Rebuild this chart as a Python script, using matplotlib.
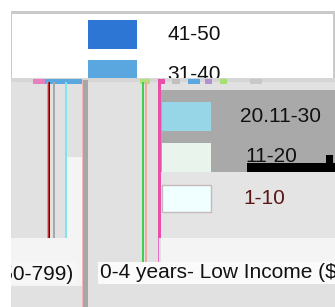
import matplotlib.pyplot as plt
from matplotlib.patches import Rectangle

plt.rcParams['font.family'] = ['Liberation Sans', 'DejaVu Sans']

# legend entries (top block and right block)
top_labels = ['41-50', '31-40']
top_colors = ['#2E76D3', '#5AA6DF']
right_labels = ['20.11-30', '11-20', '1-10']
right_colors = ['#96D6E6', '#E8F4EC', '#F0FFFF']
right_text_colors = ['#111111', '#111111', '#5A1616']
# category axis labels (cut off by the panels)
cat_labels = ['$750-799)', '0-4 years- Low Income ($']

fig = plt.figure(figsize=(3.35, 3.07), dpi=100)
ax = fig.add_axes([0, 0, 1, 1])
ax.set_xlim(0, 335)
ax.set_ylim(307, 0)
ax.axis('off')


def box(x0, y0, x1, y1, color, z=1, ec='none', lw=0):
    ax.add_patch(Rectangle((x0, y0), x1 - x0, y1 - y0, facecolor=color,
                           edgecolor=ec, linewidth=lw, zorder=z))


# top legend frame
box(11, 11, 335, 80, '#C9C9C9', 1)
box(12, 14, 333, 80, 'white', 1.1)
for i, (lab, col) in enumerate(zip(top_labels, top_colors)):
    y = 20 + i * 40
    box(88, y, 137, y + 29, col, 2)
    ax.text(167, y + 14, lab, fontsize=15, va='center', ha='left',
            color='#111111', zorder=2)

# lower panels
box(11, 80, 335, 307, '#E1E1E1', 5)
box(11, 78, 335, 82, '#D6D6D6', 5.1)
for x0, x1, c in [(33, 50, '#E77FBF'), (45, 82, '#5AA6DF'), (140, 150, '#B4E07A'),
                  (158, 165, '#E84FA8'), (172, 180, '#C0C0C0'), (188, 200, '#5AA6DF'),
                  (205, 212, '#B090D0'), (220, 227, '#A6E070'), (250, 262, '#C8C8C8')]:
    box(x0, 79, x1, 84, c, 5.2)

# left column
for x0, x1, c in [(47, 48, '#D8B020'), (48, 49, '#C03030'), (49, 50, '#222222'),
                  (53, 55, '#A8A8A8'), (65, 67, '#7FE6EE')]:
    box(x0, 82, x1, 239, c, 5.3)
box(67, 157, 82, 239, '#F4F4F4', 5.3)
box(11, 238, 82, 286, '#F4F4F4', 5.3)
box(82, 80, 88, 307, '#A7A7A7', 5.4)
box(81.5, 80, 82.5, 307, '#F0B8B8', 5.4)

# middle column lines
box(142, 82, 143.5, 263, '#3FCF4F', 5.3)
box(145, 82, 146.5, 263, '#F0A8A0', 5.3)
box(158, 82, 161, 238, '#E84FA8', 5.5)
box(158, 238, 159, 264, '#E870C8', 5.5)

# right legend block
box(161, 90, 335, 172, '#A9A9A9', 5.3)
box(161, 172, 335, 238, '#E4E4E4', 5.3)
box(161, 238, 335, 262, '#F4F4F4', 5.3)
rows = [(102, 131), (143, 172), (185, 212)]
for (y0, y1), lab, col, tc in zip(rows, right_labels, right_colors, right_text_colors):
    ec = '#C8B8B8' if col == '#F0FFFF' else 'none'
    box(162, y0, 211, y1, col, 6, ec=ec, lw=1 if ec != 'none' else 0)
ax.text(240, 116, right_labels[0], fontsize=15, va='center', ha='left',
        color=right_text_colors[0], zorder=7)
ax.text(245, 156, right_labels[1], fontsize=15, va='center', ha='left',
        color=right_text_colors[1], zorder=7)
ax.text(243, 198, right_labels[2], fontsize=15, va='center', ha='left',
        color=right_text_colors[2], zorder=7)
box(247, 163, 335, 172, '#000000', 7.5)
box(326, 155, 333, 163, '#000000', 7.5)

# category labels
box(12, 262, 76, 284, '#F7F7F7', 5.6)
ax.text(74, 274, cat_labels[0], fontsize=15, va='center', ha='right',
        color='#111111', zorder=7)
box(98, 262, 335, 284, '#FAFAFA', 5.6)
ax.text(100, 273, cat_labels[1], fontsize=15, va='center', ha='left',
        color='#111111', zorder=7)

# outer white margin hides the clipped text
box(0, 0, 11, 307, 'white', 10)
box(0, 0, 335, 11, 'white', 10)

plt.savefig('out.png', dpi=100)
